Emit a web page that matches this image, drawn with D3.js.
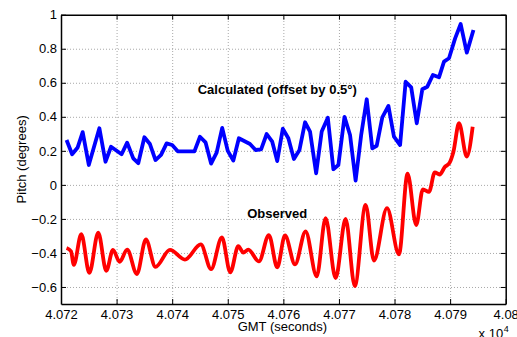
<!DOCTYPE html>
<html>
<head>
<meta charset="utf-8">
<script src="https://cdn.jsdelivr.net/npm/d3@7"></script>
<style>
  body { margin: 0; background: #fff; }
  svg text { font-family: "Liberation Sans", Arial, Helvetica, sans-serif; }
</style>
</head>
<body>
<figure id="chart" style="margin:0"></figure>
<script>
// GMT seconds and pitch (degrees)
const calcTime = [40721, 40722, 40723, 40723.9, 40725, 40726.9, 40728, 40729, 40730.9, 40731.9,
  40733, 40733.9, 40735, 40736, 40737, 40738, 40739, 40740, 40741, 40744,
  40745, 40746, 40747, 40748, 40749, 40750, 40751, 40752, 40754, 40755,
  40756, 40757, 40758, 40758.9, 40759.9, 40760.9, 40761.9, 40762.9, 40763.9, 40764.8,
  40765.9, 40766.9, 40768, 40769, 40769.9, 40771, 40772, 40773, 40774, 40775,
  40776, 40776.8, 40777.8, 40778.9, 40779.9, 40781, 40782, 40783, 40784, 40785,
  40785.9, 40786.9, 40788, 40788.9, 40789.8, 40790.9, 40791.9, 40793, 40794.2];
const calcPitch = [0.264, 0.18, 0.22, 0.31, 0.117, 0.333, 0.136, 0.224, 0.18, 0.248,
  0.156, 0.127, 0.28, 0.24, 0.146, 0.176, 0.244, 0.234, 0.197, 0.197,
  0.283, 0.25, 0.125, 0.19, 0.335, 0.2, 0.143, 0.274, 0.24, 0.205,
  0.209, 0.299, 0.254, 0.14, 0.33, 0.274, 0.152, 0.205, 0.368, 0.313,
  0.068, 0.313, 0.395, 0.092, 0.117, 0.40, 0.293, 0.025, 0.293, 0.503,
  0.215, 0.23, 0.397, 0.464, 0.283, 0.234, 0.606, 0.573, 0.362, 0.562,
  0.577, 0.646, 0.632, 0.724, 0.744, 0.861, 0.945, 0.777, 0.91];

const obsTime = [40721, 40721.8, 40722.3, 40723.65, 40725.1, 40726.7, 40728.15, 40729.35, 40730.55, 40731.9,
  40733.65, 40735.27, 40737, 40739.6, 40742.3, 40745.15, 40747, 40748.95, 40750.45, 40751.9,
  40752.8, 40753.7, 40755.6, 40757.4, 40758.9, 40760.3, 40762.1, 40764, 40766, 40767.6,
  40769.4, 40771.2, 40772.85, 40774.8, 40776.3, 40778.65, 40780.8, 40782.35, 40783.9, 40785.1,
  40786.2, 40787.25, 40788.1, 40789.1, 40789.85, 40790.6, 40791.6, 40793, 40794.06];
const obsPitch = [-0.371, -0.39, -0.47, -0.29, -0.517, -0.281, -0.505, -0.382, -0.452, -0.38,
  -0.524, -0.321, -0.482, -0.382, -0.439, -0.35, -0.495, -0.308, -0.514, -0.36,
  -0.398, -0.38, -0.45, -0.295, -0.484, -0.297, -0.467, -0.274, -0.538, -0.195,
  -0.548, -0.2, -0.595, -0.117, -0.445, -0.137, -0.408, 0.066, -0.236, -0.026,
  -0.041, 0.074, 0.061, 0.107, 0.127, 0.195, 0.362, 0.166, 0.342];

const xTicks = [40720, 40730, 40740, 40750, 40760, 40770, 40780, 40790, 40800];
const xTickLabels = ["4.072", "4.073", "4.074", "4.075", "4.076", "4.077", "4.078", "4.079", "4.08"];
const yTicks = [-0.6, -0.4, -0.2, 0, 0.2, 0.4, 0.6, 0.8, 1];
const yTickLabels = ["\u22120.6", "\u22120.4", "\u22120.2", "0", "0.2", "0.4", "0.6", "0.8", "1"];

const notes = [
  { label: "Calculated (offset by 0.5\u00b0)", t: 40758.9, v: 0.534 },
  { label: "Observed", t: 40758.9, v: -0.194 }
];

const W = 517, H = 337;
const margin = { top: 14.7, right: 11.3, bottom: 33, left: 61 };
const width = W - margin.left - margin.right;
const height = H - margin.top - margin.bottom;

const svg = d3.select("figure#chart")
  .append("svg")
  .attr("width", W)
  .attr("height", H)
  .append("g")
  .attr("transform", "translate(" + margin.left + "," + margin.top + ")");

const x = d3.scaleLinear().domain([40720, 40800]).range([0, width]);
const y = d3.scaleLinear().domain([-0.7, 1]).range([height, 0]);

// dotted grid
const gx = svg.append("g")
  .attr("transform", "translate(0," + height + ")")
  .call(d3.axisBottom(x).tickValues(xTicks.slice(1, -1)).tickSize(-height).tickFormat(""));
const gy = svg.append("g")
  .call(d3.axisLeft(y).tickValues(yTicks.slice(0, -1)).tickSize(-width).tickFormat(""));
[gx, gy].forEach(g => {
  g.select(".domain").remove();
  g.selectAll("line").attr("stroke", "#a8a8a8").attr("stroke-width", 1).attr("stroke-dasharray", "1,2");
});

// lines
const calcData = calcTime.map((t, i) => ({ t: t, v: calcPitch[i] }));
const obsData = obsTime.map((t, i) => ({ t: t, v: obsPitch[i] }));

svg.append("path")
  .datum(calcData)
  .attr("fill", "none")
  .attr("stroke", "#0000ff")
  .attr("stroke-width", 3.8)
  .attr("stroke-linejoin", "round")
  .attr("d", d3.line().x(d => x(d.t)).y(d => y(d.v)));

svg.append("path")
  .datum(obsData)
  .attr("fill", "none")
  .attr("stroke", "#ff0000")
  .attr("stroke-width", 3.8)
  .attr("stroke-linejoin", "round")
  .attr("d", d3.line().x(d => x(d.t)).y(d => y(d.v)).curve(d3.curveMonotoneX));

// axes box with inward ticks
const axBottom = svg.append("g")
  .attr("transform", "translate(0," + height + ")")
  .call(d3.axisBottom(x).tickValues(xTicks).tickSize(-5).tickSizeOuter(0).tickPadding(6)
    .tickFormat((d, i) => xTickLabels[i]));
const axLeft = svg.append("g")
  .call(d3.axisLeft(y).tickValues(yTicks).tickSize(-5).tickSizeOuter(0).tickPadding(4)
    .tickFormat((d, i) => yTickLabels[i]));
const axTop = svg.append("g")
  .call(d3.axisTop(x).tickValues(xTicks).tickSize(-5).tickSizeOuter(0).tickFormat(""));
const axRight = svg.append("g")
  .attr("transform", "translate(" + width + ",0)")
  .call(d3.axisRight(y).tickValues(yTicks).tickSize(-5).tickSizeOuter(0).tickFormat(""));

[axBottom, axLeft, axTop, axRight].forEach(g => {
  g.select(".domain").attr("stroke", "#000").attr("stroke-width", 1.5);
  g.selectAll("line").attr("stroke", "#000").attr("stroke-width", 1);
  g.selectAll("text").attr("fill", "#000").style("font-size", "13px")
    .style("font-family", '"Liberation Sans", Arial, Helvetica, sans-serif');
});

// annotations
svg.selectAll(".note")
  .data(notes)
  .enter()
  .append("text")
  .attr("x", d => x(d.t))
  .attr("y", d => y(d.v))
  .attr("text-anchor", "middle")
  .style("font-size", "13px")
  .style("font-weight", "bold")
  .text(d => d.label);

// axis labels
svg.append("text")
  .attr("x", width / 2 - 1)
  .attr("y", height + 27)
  .attr("text-anchor", "middle")
  .style("font-size", "13px")
  .text("GMT (seconds)");

svg.append("text")
  .attr("transform", "translate(-35," + (height / 2) + ")rotate(-90)")
  .attr("text-anchor", "middle")
  .style("font-size", "13px")
  .text("Pitch (degrees)");

svg.append("text")
  .attr("x", width - 2.5)
  .attr("y", height + 34.5)
  .attr("text-anchor", "end")
  .style("font-size", "13px")
  .text("x 10");
svg.append("text")
  .attr("x", width - 2)
  .attr("y", height + 28)
  .style("font-size", "9px")
  .text("4");
</script>
</body>
</html>
